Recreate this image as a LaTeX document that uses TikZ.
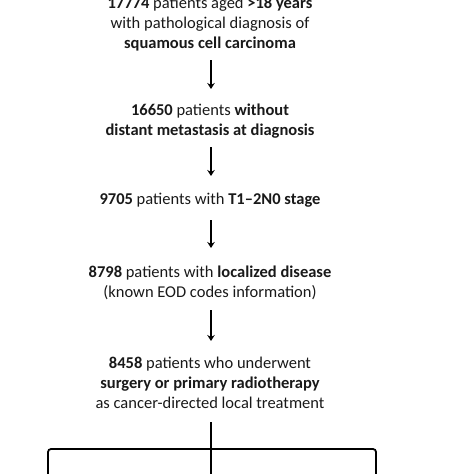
\documentclass[tikz,border=0pt]{standalone}
\usepackage{fontspec}
\setmainfont{Carlito}
\usetikzlibrary{arrows.meta}
\begin{document}
\begin{tikzpicture}[x=1pt,y=1pt,
  txt/.style={align=center, inner sep=0pt, font=\fontsize{16.5}{20}\selectfont, text=black!90},
  arr/.style={line width=1.8pt, -{Stealth[length=6pt,width=7.5pt]}},
  ln/.style={line width=1.8pt}]
\useasboundingbox (0,0) rectangle (474,-474);
\clip (0,0) rectangle (474,-474);
\node[txt] (b1) at (210,-24) {\textbf{17774} patients aged \textbf{>18 years}\\with pathological diagnosis of\\\textbf{squamous cell carcinoma}};
\node[txt] (b2) at (210,-121.5) {\textbf{16650} patients \textbf{without}\\\textbf{distant metastasis at diagnosis}};
\node[txt] (b3) at (210,-200) {\textbf{9705} patients with \textbf{T1--2N0 stage}};
\node[txt] (b4) at (210,-282.5) {\textbf{8798} patients with \textbf{localized disease}\\(known EOD codes information)};
\node[txt] (b5) at (210,-383) {\textbf{8458} patients who underwent\\\textbf{surgery or primary radiotherapy}\\as cancer-directed local treatment};
\coordinate (a1s) at (211,-60); \coordinate (a1e) at (211,-89);
\coordinate (a2s) at (211,-147); \coordinate (a2e) at (211,-176);
\coordinate (a3s) at (211,-220); \coordinate (a3e) at (211,-248);
\coordinate (a4s) at (211,-310); \coordinate (a4e) at (211,-341);
\draw[arr] (a1s) -- (a1e);
\draw[arr] (a2s) -- (a2e);
\draw[arr] (a3s) -- (a3e);
\draw[arr] (a4s) -- (a4e);
\coordinate (mtop) at (211,-422);
\coordinate (mbot) at (211,-480);
\coordinate (lbot) at (48,-480);
\coordinate (rbot) at (376,-480);
\coordinate (lc) at (48,-449);
\coordinate (rc) at (376,-449);
\draw[ln] (mtop) -- (mbot);
\draw[ln, rounded corners=3pt] (lbot) -- (lc) -- (rc) -- (rbot);
\end{tikzpicture}
\end{document}
